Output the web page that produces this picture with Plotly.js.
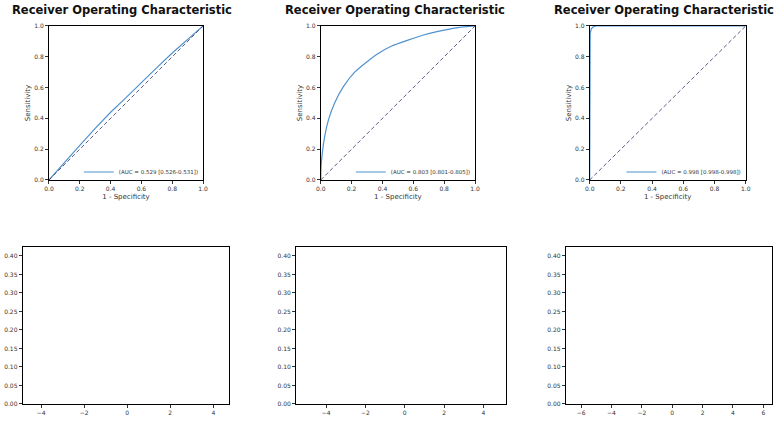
<!DOCTYPE html>
<html>
<head>
<meta charset="utf-8">
<script src="https://cdn.plot.ly/plotly-3.0.1.min.js"></script>
<style>
  html, body { margin: 0; padding: 0; background: #fff; }
  #chart { width: 780px; height: 422px; }
</style>
</head>
<body>
<div id="chart"></div>
<script>
// ROC curves (fpr = 1 - specificity, tpr = sensitivity)
const fprA = [0, 0.1, 0.2, 0.3, 0.4, 0.5, 0.6, 0.7, 0.8, 0.9, 1];
const tprA = [0, 0.115, 0.225, 0.335, 0.44, 0.535, 0.635, 0.73, 0.825, 0.915, 1];

const fprB = [0, 0.002, 0.01, 0.025, 0.05, 0.09, 0.147, 0.22, 0.29, 0.37, 0.46, 0.57, 0.66, 0.76, 0.89, 1];
const tprB = [0, 0.08, 0.173, 0.28, 0.39, 0.5, 0.606, 0.70, 0.76, 0.82, 0.87, 0.91, 0.94, 0.965, 0.99, 1];

const fprC = [0, 0, 0.003, 0.01, 0.02, 0.04, 1];
const tprC = [0, 0.9, 0.95, 0.98, 0.993, 1, 1];

const chance = [0, 1];

const legendLabels = [
    '(AUC = 0.529 [0.526-0.531])',
    '(AUC = 0.803 [0.801-0.805])',
    '(AUC = 0.998 [0.998-0.998])'
];

const rocTicks = [0, 0.2, 0.4, 0.6, 0.8, 1.0];
const rocTickText = ['0.0', '0.2', '0.4', '0.6', '0.8', '1.0'];
const densTicks = [0, 0.05, 0.1, 0.15, 0.2, 0.25, 0.3, 0.35, 0.4];
const densTickText = ['0.00', '0.05', '0.10', '0.15', '0.20', '0.25', '0.30', '0.35', '0.40'];
const xTicksSmall = [-4, -2, 0, 2, 4];
const xTicksWide = [-6, -4, -2, 0, 2, 4, 6];

const FONT = 'DejaVu Sans, sans-serif';
const curveColor = '#4f92cf';
const chanceColor = '#4a4a80';

const rocCurves = [[fprA, tprA, 'linear'], [fprB, tprB, 'spline'], [fprC, tprC, 'linear']];
const traces = [];

rocCurves.forEach(([fpr, tpr, shape], i) => {
    const n = i + 1;
    traces.push({
        x: fpr, y: tpr,
        type: 'scatter', mode: 'lines',
        name: legendLabels[i],
        line: { color: curveColor, width: 1.2, shape: shape, smoothing: 0.6 },
        xaxis: 'x' + n, yaxis: 'y' + n,
        legend: n === 1 ? 'legend' : 'legend' + n
    });
    traces.push({
        x: chance, y: chance,
        type: 'scatter', mode: 'lines',
        showlegend: false,
        line: { color: chanceColor, width: 0.9, dash: '4px,2.5px' },
        xaxis: 'x' + n, yaxis: 'y' + n
    });
});

// empty density panels in the bottom row
[4, 5, 6].forEach(n => {
    traces.push({ x: [], y: [], type: 'scatter', mode: 'lines', showlegend: false,
                  xaxis: 'x' + n, yaxis: 'y' + n });
});

function axis(extra) {
    return Object.assign({
        showline: true, mirror: true, linecolor: '#000', linewidth: 1,
        showgrid: false, zeroline: false,
        ticks: 'outside', ticklen: 3, tickwidth: 0.8, tickcolor: '#000',
        tickfont: { family: FONT, size: 6, color: '#333' },
        fixedrange: true
    }, extra);
}

const topY = [0.5735, 0.9384];
const botY = [0.0427, 0.4147];
const topX = [[0.0628, 0.2603], [0.4112, 0.6090], [0.7560, 0.9560]];
const botX = [[0.0291, 0.2936], [0.3795, 0.6487], [0.7253, 0.9901]];
const botRanges = [[-4.86, 4.73], [-5.53, 5.15], [-7.01, 6.59]];

const layout = {
    width: 780, height: 422,
    margin: { l: 0, r: 0, t: 0, b: 0 },
    paper_bgcolor: '#fff', plot_bgcolor: '#fff',
    font: { family: FONT, color: '#333' },
    showlegend: true,
    annotations: []
};

const titleLeft = [10, 283, 552];

topX.forEach((dom, i) => {
    const n = i + 1;
    layout['xaxis' + n] = axis({
        domain: dom, range: [0, 1], anchor: 'y' + n,
        tickvals: rocTicks, ticktext: rocTickText,
        title: { text: '1 - Specificity', font: { family: FONT, size: 7, color: '#333' }, standoff: 2 }
    });
    layout['yaxis' + n] = axis({
        domain: topY, range: [0, 1], anchor: 'x' + n,
        tickvals: rocTicks, ticktext: rocTickText,
        title: { text: 'Sensitivity', font: { family: FONT, size: 7, color: '#333' }, standoff: 2 }
    });
    layout[n === 1 ? 'legend' : 'legend' + n] = {
        x: dom[1] + 0.001, y: 1 - 172 / 422,
        xanchor: 'right', yanchor: 'middle',
        bgcolor: 'rgba(255,255,255,0)', borderwidth: 0,
        font: { family: FONT, size: 5.5, color: '#333' },
        itemwidth: 30
    };
    layout.annotations.push({
        text: '<b>Receiver Operating Characteristic</b>',
        xref: 'paper', yref: 'paper',
        x: titleLeft[i] / 780, y: 1 - 10 / 422,
        xanchor: 'left', yanchor: 'middle', showarrow: false,
        font: { family: FONT, size: 11.5, color: '#111' }
    });
});

botX.forEach((dom, i) => {
    const n = i + 4;
    layout['xaxis' + n] = axis({
        domain: dom, range: botRanges[i], anchor: 'y' + n,
        tickvals: i === 2 ? xTicksWide : xTicksSmall
    });
    layout['yaxis' + n] = axis({
        domain: botY, range: [0, 0.424], anchor: 'x' + n,
        tickvals: densTicks, ticktext: densTickText
    });
});

Plotly.newPlot('chart', traces, layout, { displayModeBar: false, staticPlot: true });
</script>
</body>
</html>
